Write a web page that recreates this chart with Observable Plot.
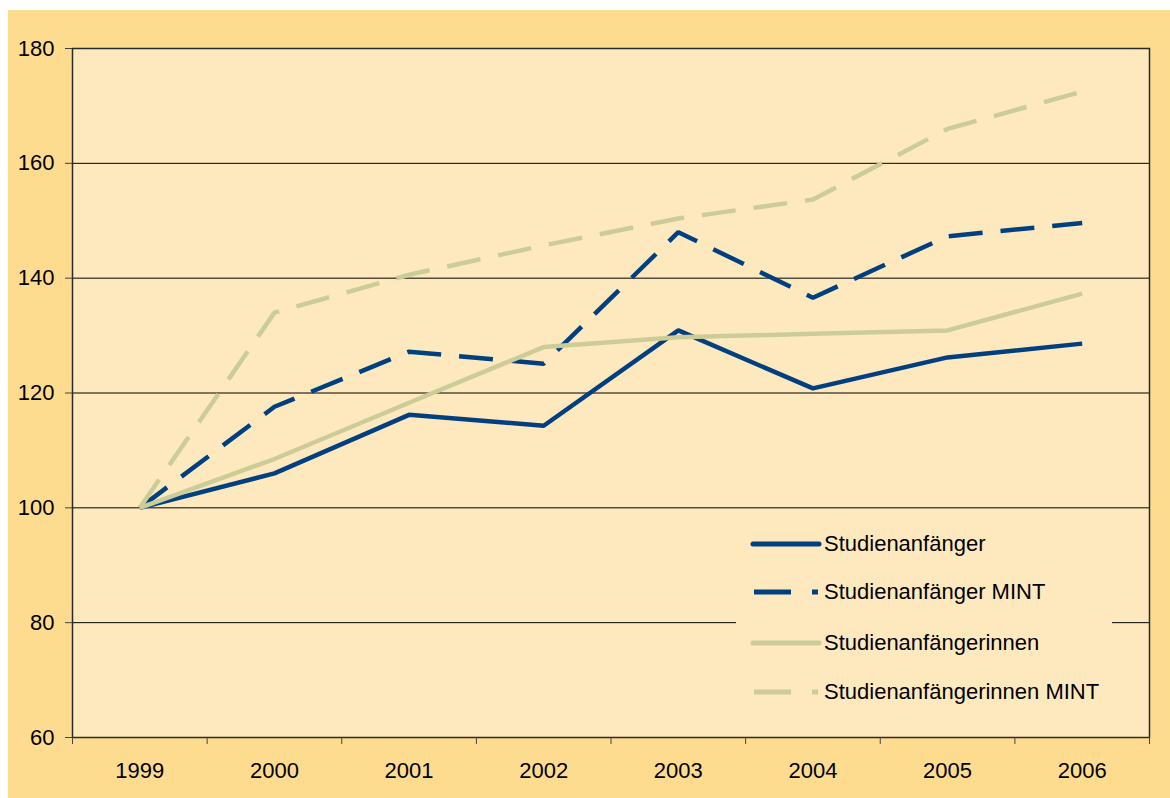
<!DOCTYPE html>
<html><head><meta charset="utf-8">
<script src="https://cdn.jsdelivr.net/npm/d3@7"></script>
<script src="https://cdn.jsdelivr.net/npm/@observablehq/plot@0.6"></script>
<style>
body{margin:0;background:#fff;font-family:"Liberation Sans",Arial,sans-serif;}
#wrap{position:relative;width:1170px;height:798px;overflow:hidden;}
#bg{position:absolute;left:8px;top:10px;right:0;bottom:0;background:#FDDC8F;}
#chart{position:absolute;left:0;top:0;}
#legend{position:absolute;left:736px;top:516px;width:376px;height:204px;background:#FEE9BE;}
.row{position:absolute;left:0;width:376px;height:30px;}
.row svg{position:absolute;left:14px;top:10px;}
.row span{position:absolute;left:88px;top:0;line-height:30px;font-size:22px;color:#000;white-space:nowrap;}
</style></head>
<body>
<div id="wrap"><div id="bg"></div><div id="chart"></div><div id="legend"></div></div>
<script>
const years = [1999, 2000, 2001, 2002, 2003, 2004, 2005, 2006];
const yTicks = [60, 80, 100, 120, 140, 160, 180];
const seriesNames = ["Studienanfänger", "Studienanfänger MINT", "Studienanfängerinnen", "Studienanfängerinnen MINT"];
const anfaenger = [100, 106.0, 116.2, 114.3, 130.9, 120.8, 126.2, 128.6];
const anfaengerMint = [100, 117.6, 127.2, 125.1, 148.0, 136.6, 147.3, 149.6];
const anfaengerinnen = [100, 108.5, 118.3, 128.0, 129.7, 130.3, 130.9, 137.3];
const anfaengerinnenMint = [100, 134.0, 140.6, 145.7, 150.4, 153.7, 166.0, 172.5];

const blue = "#004080", tan = "#CCCC99";
const styles = [
  {stroke: blue, dash: null},
  {stroke: blue, dash: "34,18"},
  {stroke: tan, dash: null},
  {stroke: tan, dash: "34,18"}
];
const allSeries = [anfaenger, anfaengerMint, anfaengerinnen, anfaengerinnenMint];
const rows = (arr) => years.map((y, i) => ({year: y, value: arr[i]}));
const boundaries = years.map(y => y - 0.5).concat([years[years.length - 1] + 0.5]);

const lines = allSeries.map((arr, k) => Plot.line(rows(arr), {
  x: "year", y: "value", stroke: styles[k].stroke, strokeWidth: 4.5,
  strokeDasharray: styles[k].dash, strokeLinejoin: "miter", strokeLinecap: "butt"
}));

const chart = Plot.plot({
  width: 1170, height: 798,
  marginLeft: 72, marginTop: 48, marginRight: 21, marginBottom: 61,
  style: {background: "transparent", fontFamily: "'Liberation Sans', Arial, sans-serif", fontSize: "22px", color: "#000"},
  x: {type: "linear", domain: [boundaries[0], boundaries[boundaries.length - 1]], axis: null, label: null},
  y: {domain: [60, 180], axis: null, label: null},
  marks: [
    Plot.frame({fill: "#FEE9BE", stroke: null}),
    Plot.gridY(yTicks, {stroke: "#000", strokeOpacity: 1, strokeWidth: 1}),
    Plot.frame({stroke: "#2a2a2a", strokeWidth: 1.5, fill: null}),
    Plot.axisY({ticks: yTicks, tickSize: 7, tickPadding: 11, tickFormat: d => String(d), stroke: "#444", fontSize: 22, label: null}),
    Plot.axisX({ticks: boundaries, tickSize: 7, tickFormat: () => "", stroke: "#444", label: null}),
    Plot.axisX({ticks: years, tickSize: 0, tickPadding: 25, tickFormat: d => String(d), fontSize: 22, label: null}),
    ...lines
  ]
});
document.getElementById("chart").appendChild(chart);

// Legend
const legend = document.getElementById("legend");
const rowCenters = [28, 76, 127, 176];
seriesNames.forEach((name, k) => {
  const row = document.createElement("div");
  row.className = "row";
  row.style.top = (rowCenters[k] - 15) + "px";
  const st = styles[k];
  let svg;
  if (st.dash) {
    svg = `<svg width="72" height="10"><line x1="4" y1="5" x2="41" y2="5" stroke="${st.stroke}" stroke-width="5"/><line x1="62" y1="5" x2="68" y2="5" stroke="${st.stroke}" stroke-width="5"/></svg>`;
  } else {
    svg = `<svg width="72" height="10"><line x1="3" y1="5" x2="69" y2="5" stroke="${st.stroke}" stroke-width="5" stroke-linecap="round"/></svg>`;
  }
  row.innerHTML = svg + `<span>${name}</span>`;
  legend.appendChild(row);
});
</script>
</body></html>
